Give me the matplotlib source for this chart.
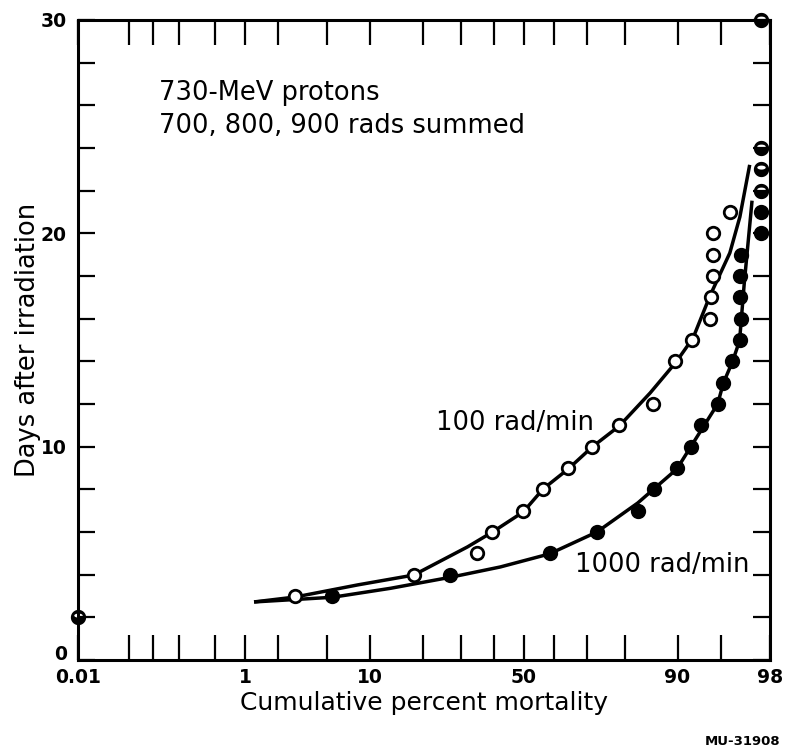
import numpy as np
import matplotlib
matplotlib.use("Agg")
import matplotlib.pyplot as plt
from matplotlib.path import Path
from statistics import NormalDist

# cumulative percent mortality (x) vs days after irradiation (y)
open_days = [3, 4, 5, 6, 7, 8, 9, 10, 11, 12, 14, 15, 16, 17, 18, 19, 20, 21]
open_pct = [2.8, 17.9, 34.8, 39.6, 49.8, 56.3, 64.4, 71.6, 78.6, 85.9,
            89.7, 92.0, 94.0, 94.1, 94.3, 94.3, 94.3, 95.7]

filled_days = [3, 4, 5, 6, 7, 8, 9, 10, 11, 12, 13, 14, 15, 16, 17, 18, 19, 20, 21]
filled_pct = [5.5, 27.0, 58.5, 73.0, 82.9, 86.1, 89.9, 91.8, 93.0, 94.7,
              95.2, 95.9, 96.4, 96.5, 96.4, 96.4, 96.5, 97.6, 97.6]

half_days = [2, 22, 23, 24, 30]
half_pct = [0.01, 97.6, 97.6, 97.6, 97.6]

# fitted curves
curve100_pct = [1.22, 2.81, 8.3, 17.9, 31.9, 39.7, 49.8, 56.4, 64.4, 71.6,
                78.7, 85.4, 89.8, 92.1, 93.97, 95.71, 96.42, 97.02]
curve100_days = [2.72, 2.95, 3.52, 3.98, 5.30, 6.00, 6.94, 8.02, 8.95, 9.99,
                 10.97, 12.52, 13.97, 15.10, 17.07, 19.08, 20.77, 23.21]

curve1000_pct = [1.22, 5.53, 13.3, 27.1, 42.2, 58.4, 72.9, 82.9, 86.1, 89.9,
                 91.8, 94.7, 95.2, 95.9, 96.4, 96.7, 97.15]
curve1000_days = [2.72, 2.94, 3.36, 3.88, 4.36, 4.97, 6.00, 7.36, 8.02, 8.95,
                  9.99, 12.00, 12.99, 13.97, 14.96, 17.67, 21.53]

x_ticks = [0.01, 0.05, 0.1, 0.2, 0.5, 1, 2, 5, 10, 20, 30, 40, 50, 60, 70, 80, 90, 95, 98]
x_labels = {0.01: "0.01", 1: "1", 10: "10", 50: "50", 90: "90", 98: "98"}
y_ticks = list(range(0, 31, 2))
y_labels = {0: "0", 10: "10", 20: "20", 30: "30"}

_nd = NormalDist()
_ppf = np.vectorize(_nd.inv_cdf, otypes=[float])
_cdf = np.vectorize(_nd.cdf, otypes=[float])


def fwd(p):
    p = np.clip(np.asarray(p, dtype=float) / 100.0, 1e-9, 1 - 1e-9)
    return _ppf(p)


def inv(z):
    return _cdf(np.asarray(z, dtype=float)) * 100.0


# black dot with a light band in its upper half
th = np.linspace(0, 2 * np.pi, 60)
outer = np.column_stack([np.cos(th), np.sin(th)])
hole = np.column_stack([0.55 * np.cos(th[::-1]), 0.25 + 0.26 * np.sin(th[::-1])])
half_marker = Path.make_compound_path(Path(outer, closed=True), Path(hole, closed=True))

plt.rcParams["font.family"] = ["DejaVu Sans"]

fig = plt.figure(figsize=(7.85, 7.54), dpi=100)
ax = fig.add_axes([0.0994, 0.1247, 0.8816, 0.8488])
ax.set_xscale("function", functions=(fwd, inv))
ax.set_xlim(0.01, 98)
ax.set_ylim(0, 30)

ax.plot(curve100_pct, curve100_days, color="black", lw=2.5, solid_capstyle="butt")
ax.plot(curve1000_pct, curve1000_days, color="black", lw=2.5, solid_capstyle="butt")

ax.plot(open_pct, open_days, "o", ms=9, mfc="white", mec="black", mew=2, zorder=5)
ax.plot(filled_pct, filled_days, "o", ms=9, mfc="black", mec="black", mew=2, zorder=5)
ax.plot(half_pct, half_days, linestyle="none", marker=half_marker, ms=11,
        mfc="black", mec="none", zorder=6, clip_on=False)

ax.set_xticks(x_ticks)
ax.set_xticklabels([x_labels.get(t, "") for t in x_ticks])
ax.xaxis.set_minor_locator(matplotlib.ticker.NullLocator())
ax.set_yticks(y_ticks)
ax.set_yticklabels([y_labels.get(t, "") for t in y_ticks])

ax.tick_params(axis="x", direction="in", length=18, width=1.6, top=True,
               labelsize=13.5, pad=6)
ax.tick_params(axis="y", direction="in", length=12, width=1.6, right=True,
               labelsize=13.5, pad=8)
for lab in ax.get_xticklabels() + ax.get_yticklabels():
    lab.set_fontweight("bold")
# the "0" sits on the corner line so it clears "0.01"
ax.get_yticklabels()[0].set_verticalalignment("baseline")

for s in ax.spines.values():
    s.set_linewidth(2.2)

ax.set_xlabel("Cumulative percent mortality", fontsize=18, labelpad=3)
ax.set_ylabel("Days after irradiation", fontsize=18.5, labelpad=0)

ax.text(0.118, 26.6, "730-MeV protons", fontsize=18.5, va="center", ha="left")
ax.text(0.118, 25.05, "700, 800, 900 rads summed", fontsize=18.5, va="center", ha="left")
ax.text(23.1, 11.1, "100 rad/min", fontsize=18.5, va="center", ha="left")
ax.text(66.6, 4.45, "1000 rad/min", fontsize=18.5, va="center", ha="left")

fig.text(0.994, 0.008, "MU-31908", fontsize=9.5, fontweight="bold", ha="right",
         va="bottom")

fig.savefig("out.png", dpi=100)
